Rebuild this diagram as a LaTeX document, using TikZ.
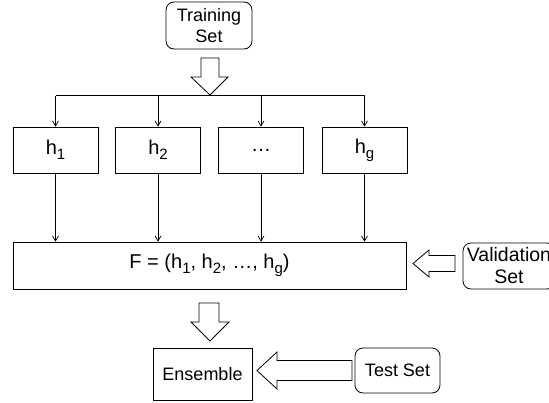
\documentclass[tikz,border=0pt]{standalone}
\usepackage{fontspec}
\setmainfont{Liberation Sans}
\usetikzlibrary{arrows.meta,calc}

% subscript in the style of the labels
\newcommand{\lowsub}[1]{\raisebox{-5pt}{\fontsize{15}{15}\selectfont #1}}

\tikzset{
  base/.style={draw=black, line width=0.8pt, fill=white, align=center,
    inner sep=0pt, font=\fontsize{18}{21}\selectfont},
  plainbox/.style={base, rectangle},
  bigtext/.style={font=\fontsize{20}{23}\selectfont},
  roundbox/.style={base, rectangle, rounded corners=8pt},
  thin arrow/.style={line width=0.7pt, -{Straight Barb[length=5pt,width=6pt,line width=0.7pt]}},
  bus/.style={line width=0.7pt},
  block arrow/.style={draw=black, line width=0.8pt, fill=white, line join=miter}
}

\begin{document}
\begin{tikzpicture}[x=1pt,y=-1pt]
  \useasboundingbox (0,0) rectangle (549,402);
  \clip (0,0) rectangle (549,402);

  % source of the training data
  \node[roundbox, minimum width=86pt, minimum height=47pt] (train) at (209,25.5) {Training\\Set};

  % the g hypotheses
  \node[plainbox, bigtext, minimum width=85pt, minimum height=46pt] (h1) at (55.5,150) {h\lowsub{1}};
  \node[plainbox, bigtext, minimum width=85pt, minimum height=46pt] (h2) at (158,150) {h\lowsub{2}};
  \node[plainbox, bigtext, minimum width=85pt, minimum height=46pt] (hd) at (261,150) {…};
  \node[plainbox, bigtext, minimum width=85pt, minimum height=46pt] (hg) at (364.5,150) {h\lowsub{g}};

  % combined predictor
  \node[plainbox, bigtext, minimum width=393pt, minimum height=47pt] (F) at (209.5,265.5)
    {F = (h\lowsub{1}, h\lowsub{2}, …, h\lowsub{g})};

  \node[roundbox, font=\fontsize{19.5}{22}\selectfont, minimum width=92pt, minimum height=46pt] (val) at (509,266)
    {Validation\\Set};

  \node[plainbox, minimum width=99pt, minimum height=52pt] (ens) at (202.5,374) {Ensemble};
  \node[roundbox, minimum width=85pt, minimum height=45pt] (test) at (397.5,370.5) {Test Set};

  % distribution bus from the training set to every hypothesis
  \coordinate (b1) at ($(h1.north)+(0,-31)$);
  \coordinate (b2) at ($(h2.north)+(0,-31)$);
  \coordinate (b3) at ($(hd.north)+(0,-31)$);
  \coordinate (b4) at ($(hg.north)+(0,-31)$);
  \draw[bus] (b1) -- (b4);
  \foreach \h/\b in {h1/b1,h2/b2,hd/b3,hg/b4}
    \draw[thin arrow] (\b) -- (\h.north);

  % every hypothesis feeds the combination
  \foreach \h in {h1,h2,hd,hg}
    \draw[thin arrow] (\h.south) -- (\h.south |- F.north);

  % hollow block arrows
  \draw[block arrow] (201,58) -- (219,58) -- (219,77) -- (228,77) -- (210,95)
    -- (191,77) -- (201,77) -- cycle;
  \draw[block arrow] (199,303) -- (219,303) -- (219,322) -- (229,322) -- (210,341)
    -- (191,322) -- (199,322) -- cycle;
  \draw[block arrow] (455,255.5) -- (455,271.5) -- (429,271.5) -- (429,277) -- (413,263.5)
    -- (429,250) -- (429,255.5) -- cycle;
  \draw[block arrow] (352,360.5) -- (352,380.5) -- (277,380.5) -- (277,389) -- (257,370.5)
    -- (277,352) -- (277,360.5) -- cycle;
\end{tikzpicture}
\end{document}
